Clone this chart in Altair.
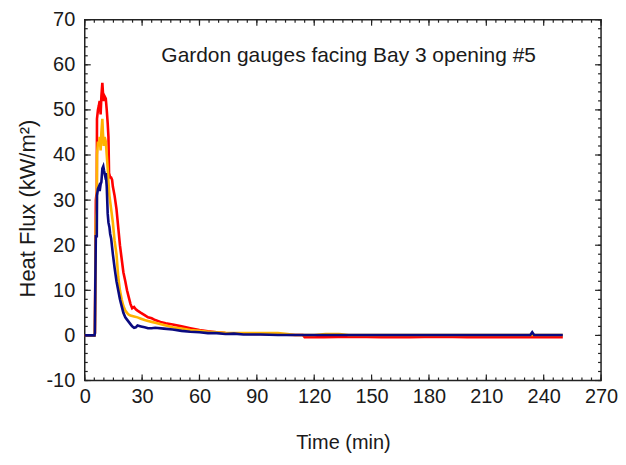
import altair as alt
import pandas as pd

# ---- data ----
red_t = [0, 5.1, 5.3, 5.5, 5.8, 6.3, 6.4, 6.9, 7.4, 7.8, 8.3, 8.7, 9.2, 9.5, 9.9, 10.4, 11.0, 11.5,
         12.0, 12.4, 12.7, 13.3, 13.8, 14.3, 14.7, 15.6, 16.6, 17.5, 18.4, 19.3, 20.2, 21.2, 22.1,
         23.0, 23.9, 24.8, 25.8, 26.7, 27.6, 29.4, 31.3, 33.1, 35.0, 36.8, 39.6, 42.3, 46.0, 50.6,
         55.2, 60.0, 64.4, 69.0, 73.6, 83.0, 92.0, 101.0, 110.0, 114.0, 115.0, 125.0, 140.0, 155.0,
         170.0, 185.0, 200.0, 215.0, 230.0, 240.0, 250.0]
red_v = [0, 0, 0.5, 12, 30, 32, 48, 50, 51, 52, 49, 53, 56, 54, 52, 53, 52.5, 50,
         47, 44, 36, 35, 35, 34.5, 33, 31, 28, 24, 20, 17, 14, 12, 10,
         8.5, 7, 6, 6.3, 5.8, 5.5, 5, 4.5, 4, 3.8, 3.4, 3, 2.7, 2.4, 2,
         1.6, 1.2, 0.9, 0.7, 0.5, 0.4, 0.3, 0.2, 0.1, 0.1, -0.4, -0.4, -0.3, -0.4,
         -0.4, -0.3, -0.4, -0.4, -0.4, -0.4, -0.4]

orange_t = [0, 5.1, 5.3, 5.5, 5.8, 6.3, 6.4, 6.9, 7.4, 7.8, 8.3, 8.7, 9.2, 9.5, 9.9, 10.4, 11.0,
            11.5, 12.0, 12.4, 12.9, 13.8, 14.7, 15.6, 16.6, 17.5, 18.4, 19.3, 20.2, 21.2, 22.1,
            23.0, 23.9, 25.8, 27.6, 29.4, 31.3, 33.1, 35.0, 36.8, 41.4, 46.0, 50.6, 55.2, 60.0,
            64.4, 69.0, 73.6, 83.0, 92.0, 101.0, 106.0, 110.0, 120.0, 126.0, 133.0, 138.0, 150.0,
            200.0, 250.0]
orange_v = [0, 0, 0.5, 9, 25, 28, 40, 43, 42, 44, 41, 45, 48, 45, 42, 44, 43,
            40, 37, 34, 31, 28, 25, 21, 18, 13, 10, 8, 6.5, 5.5, 5,
            4.6, 4.4, 4.2, 4, 3.7, 3.4, 3.2, 3, 2.8, 2.3, 1.8, 1.5, 1.2, 1.0,
            0.8, 0.7, 0.6, 0.5, 0.5, 0.5, 0.3, 0.1, 0.1, 0.3, 0.3, 0.1, 0.1,
            0.1, 0.1]

blue_t = [0, 5.1, 5.3, 5.5, 5.8, 6.3, 6.4, 6.9, 7.4, 7.8, 8.3, 8.7, 9.2, 9.7, 10.1, 10.6, 11.0,
          11.5, 12.0, 12.4, 12.9, 13.3, 13.8, 14.7, 15.6, 16.6, 17.5, 18.4, 19.3, 20.2, 21.2,
          22.1, 23.0, 23.9, 24.8, 25.8, 26.7, 27.6, 29.4, 31.3, 33.1, 35.0, 36.8, 41.4, 46.0,
          50.6, 55.2, 60.0, 64.4, 69.0, 73.6, 78.0, 83.0, 92.0, 101.0, 110.0, 120.0, 150.0,
          180.0, 210.0, 233.0, 234.0, 235.0, 236.0, 250.0]
blue_v = [0, 0, 0.5, 10, 22, 22, 31, 32.5, 33, 32, 33.5, 34, 37, 37.5, 36.5, 35.5, 36,
          33, 27, 25, 24, 22.5, 21.5, 18, 15, 12, 10, 8, 6.5, 5, 4,
          3.5, 3, 2.5, 2, 1.7, 1.8, 2.2, 2, 1.8, 1.6, 1.6, 1.7, 1.5, 1.3,
          1.0, 0.8, 0.7, 0.5, 0.5, 0.3, 0.4, 0.2, 0.2, 0.1, 0.1, 0.1, 0.1,
          0.1, 0.1, 0.1, 0.7, 0.1, 0.1, 0.1]

x_major = list(range(0, 271, 30))
x_minor = list(range(0, 271, 5))
y_major = list(range(-10, 71, 10))
y_minor = list(range(-10, 71, 2))

title_text = "Gardon gauges facing Bay 3 opening #5"
x_title = "Time (min)"
y_title = "Heat Flux (kW/m\u00b2)"

W, H = 518, 362
FONT = "Liberation Sans"
TXT = "#1a1a1a"

xscale = alt.Scale(domain=[0, 270], nice=False, zero=False)
yscale = alt.Scale(domain=[-10, 70], nice=False, zero=False)

xaxis = alt.Axis(values=x_major, tickSize=0, domain=False, grid=False,
                 labelFontSize=20, labelFont=FONT, labelColor=TXT, labelPadding=6,
                 titleFontSize=20, titleFont=FONT, titleColor=TXT, titleFontWeight="normal",
                 titlePadding=26, labelFlush=False)
yaxis = alt.Axis(values=y_major, tickSize=0, domain=False, grid=False,
                 labelExpr="'' + datum.value",
                 labelFontSize=20, labelFont=FONT, labelColor=TXT, labelPadding=10,
                 titleFontSize=22, titleFont=FONT, titleColor=TXT, titleFontWeight="normal",
                 titlePadding=7, titleY=189, labelFlush=False)


def X(field="t"):
    return alt.X(f"{field}:Q", scale=xscale, axis=xaxis, title=x_title)


def Y(field="v"):
    return alt.Y(f"{field}:Q", scale=yscale, axis=yaxis, title=y_title)


def series(t, v, color):
    df = pd.DataFrame({"t": t, "v": v})
    return alt.Chart(df).mark_line(color=color, strokeWidth=2.6).encode(x=X(), y=Y())


def xticks(vals, length):
    df = pd.DataFrame({"t": vals})
    bottom = alt.Chart(df).mark_rule(color="#222", strokeWidth=1.2).encode(
        x=X(), y=alt.value(H), y2=alt.value(H - length))
    top = alt.Chart(df).mark_rule(color="#222", strokeWidth=1.2).encode(
        x=X(), y=alt.value(0), y2=alt.value(length))
    return [bottom, top]


def yticks(vals, length):
    df = pd.DataFrame({"v": vals})
    left = alt.Chart(df).mark_rule(color="#222", strokeWidth=1.2).encode(
        y=Y(), x=alt.value(0), x2=alt.value(length))
    right = alt.Chart(df).mark_rule(color="#222", strokeWidth=1.2).encode(
        y=Y(), x=alt.value(W), x2=alt.value(W - length))
    return [left, right]


title_df = pd.DataFrame({"t": [138], "v": [62], "label": [title_text]})
title = alt.Chart(title_df).mark_text(fontSize=21, font=FONT, color=TXT, align="center",
                                      baseline="middle").encode(
    x=X(), y=Y(), text="label:N")

layers = []
layers += xticks(x_minor, 3) + xticks(x_major, 6)
layers += yticks(y_minor, 3) + yticks(y_major, 6)
layers += [series(red_t, red_v, "#FF0000"),
           series(orange_t, orange_v, "#FFB300"),
           series(blue_t, blue_v, "#0A0A80"),
           title]

chart = alt.layer(*layers).properties(
    width=W, height=H, autosize="none",
    padding={"left": 77, "top": 11, "right": 17, "bottom": 74},
    background="white",
).configure_view(stroke="#222", strokeWidth=1.5)

chart.save("out.html", embed_options={"renderer": "svg", "actions": False})
